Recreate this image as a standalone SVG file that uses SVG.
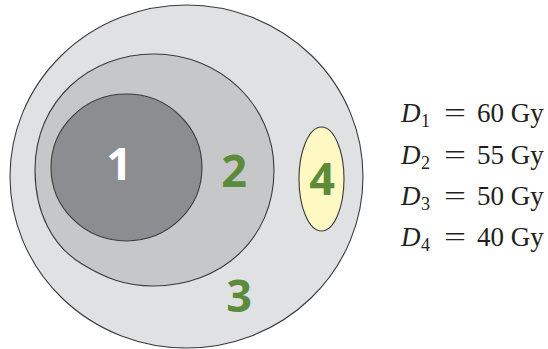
<svg xmlns="http://www.w3.org/2000/svg" width="548" height="349" viewBox="0 0 548 349">
<style>
.reg{stroke:#3a3a3a;stroke-width:1.1}
.num{font-family:"Open Sans","DejaVu Sans",sans-serif;font-weight:bold;font-size:45px;text-anchor:middle;fill:#5b8b3b}
.eq{font-family:"Liberation Serif","Times New Roman",serif;font-size:27px;fill:#231f20}
.it{font-style:italic}
.sub{font-size:18px}
</style>
<rect width="548" height="349" fill="#ffffff"/>
<g id="region3">
<ellipse class="reg" cx="186.5" cy="176.5" rx="176.5" ry="171.5" fill="#e0e1e3"/>
</g>
<g id="region2">
<path class="reg" fill="#c6c7c9" d="M35,170 C35,100 90,54 154,54 C220,54 274,105 274,170 C274,240 220,286 153,286 C125,286 105,278 82,264 C52,246 35,212 35,170 Z"/>
</g>
<g id="region1">
<ellipse class="reg" cx="126.5" cy="167.5" rx="75.5" ry="73.5" fill="#8c8d91"/>
</g>
<g id="region4">
<ellipse class="reg" cx="321.5" cy="179" rx="22.5" ry="52" fill="#fef8c3"/>
</g>
<g id="labels">
<text class="num" x="119" y="180" style="fill:#ffffff">1</text>
<text class="num" x="234" y="187">2</text>
<text class="num" x="239" y="312">3</text>
<text class="num" x="322" y="195">4</text>
</g>
<g id="legend">
<text class="eq" y="122"><tspan class="it" x="401">D</tspan><tspan class="sub" x="421" dy="5">1</tspan></text>
<text class="eq" x="444" y="122" textLength="22" lengthAdjust="spacingAndGlyphs">=</text>
<text class="eq" x="477" y="122">60 Gy</text>
<text class="eq" y="163.5"><tspan class="it" x="401">D</tspan><tspan class="sub" x="421" dy="5">2</tspan></text>
<text class="eq" x="444" y="163.5" textLength="22" lengthAdjust="spacingAndGlyphs">=</text>
<text class="eq" x="477" y="163.5">55 Gy</text>
<text class="eq" y="204.5"><tspan class="it" x="401">D</tspan><tspan class="sub" x="421" dy="5">3</tspan></text>
<text class="eq" x="444" y="204.5" textLength="22" lengthAdjust="spacingAndGlyphs">=</text>
<text class="eq" x="477" y="204.5">50 Gy</text>
<text class="eq" y="245.5"><tspan class="it" x="401">D</tspan><tspan class="sub" x="421" dy="5">4</tspan></text>
<text class="eq" x="444" y="245.5" textLength="22" lengthAdjust="spacingAndGlyphs">=</text>
<text class="eq" x="477" y="245.5">40 Gy</text>
</g>
</svg>
